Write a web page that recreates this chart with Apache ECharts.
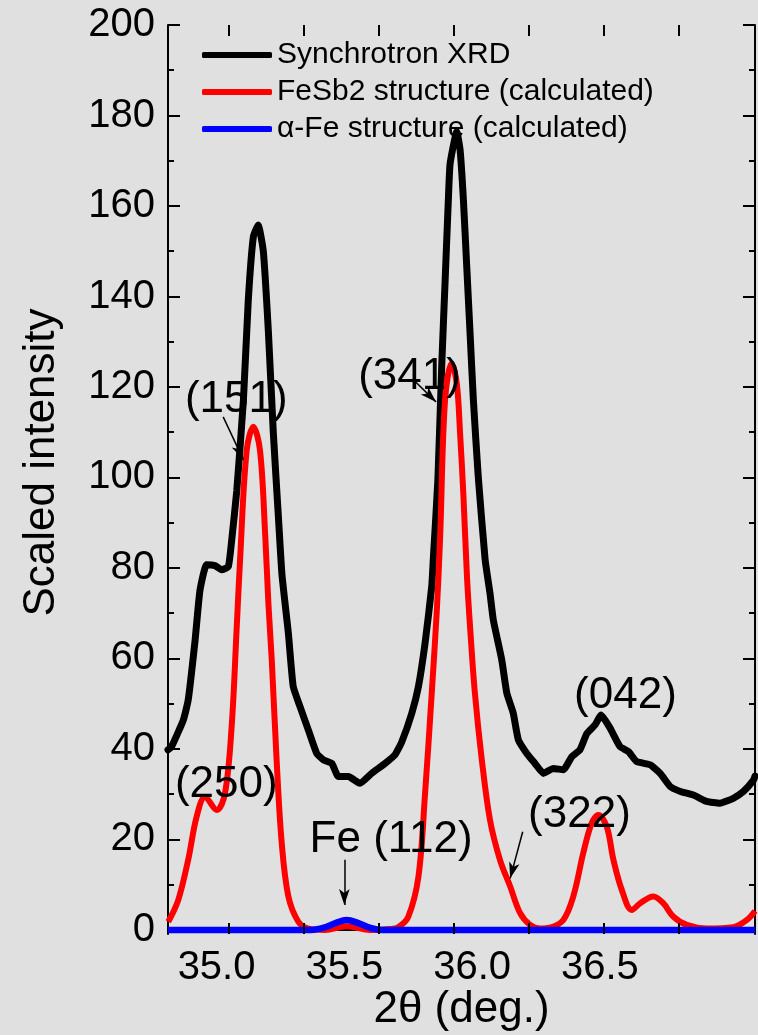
<!DOCTYPE html>
<html>
<head>
<meta charset="utf-8">
<script src="https://cdn.jsdelivr.net/npm/echarts@6/dist/echarts.min.js"></script>
<style>
  html, body { margin: 0; padding: 0; background: #e0e0e0; }
  #chart { width: 758px; height: 1035px; }
</style>
</head>
<body>
<div id="chart"></div>
<script>
// measured XRD (black)
const xrdTheta = [34.810, 34.824, 34.870, 34.889, 34.916, 34.935, 34.961, 34.994, 35.020, 35.046, 35.059, 35.079, 35.105, 35.124, 35.144, 35.163, 35.183, 35.203, 35.222, 35.242, 35.256, 35.281, 35.300, 35.327, 35.359, 35.392, 35.418, 35.451, 35.477, 35.516, 35.561, 35.607, 35.659, 35.698, 35.725, 35.764, 35.790, 35.816, 35.842, 35.848, 35.866, 35.881, 35.894, 35.907, 35.914, 35.940, 35.953, 35.966, 35.979, 35.992, 36.005, 36.024, 36.051, 36.070, 36.083, 36.116, 36.136, 36.161, 36.181, 36.214, 36.246, 36.279, 36.318, 36.357, 36.390, 36.422, 36.449, 36.481, 36.505, 36.540, 36.579, 36.612, 36.644, 36.697, 36.736, 36.775, 36.815, 36.866, 36.918, 36.970, 37.022, 37.062, 37.101, 37.107]
const xrdIntensity = [39.8, 40.5, 46.4, 50.8, 64, 75, 80.7, 80.5, 79.6, 80.3, 86, 97, 117, 139, 153.2, 155.8, 150, 132, 110, 91.3, 78.5, 65.6, 53.8, 49.3, 44.2, 39, 37.6, 36.8, 33.9, 33.9, 32.4, 34.6, 36.8, 38.7, 41.6, 47.9, 53.8, 63.4, 75.9, 81.8, 99.4, 124.5, 142.9, 161.3, 169.4, 176.4, 172.4, 161.3, 146.6, 131.9, 117.1, 100.2, 81.8, 74.4, 68.5, 59.7, 52.3, 47.9, 42, 39, 36.8, 34.6, 35.7, 35.4, 38.3, 39.8, 43.4, 45.3, 47.5, 44.6, 40.5, 39.4, 37.2, 36.5, 34.6, 31.7, 30.6, 29.8, 28.4, 28, 29.1, 30.6, 33.1, 34]

// FeSb2 calculated (red)
const fesb2Theta = [34.811, 34.850, 34.889, 34.922, 34.955, 35.001, 35.033, 35.059, 35.079, 35.092, 35.118, 35.144, 35.170, 35.190, 35.203, 35.216, 35.235, 35.255, 35.281, 35.320, 35.359, 35.424, 35.509, 35.601, 35.679, 35.711, 35.750, 35.790, 35.816, 35.842, 35.862, 35.875, 35.894, 35.920, 35.940, 35.953, 35.966, 35.980, 35.992, 36.011, 36.038, 36.070, 36.109, 36.149, 36.188, 36.227, 36.266, 36.305, 36.357, 36.396, 36.435, 36.468, 36.494, 36.527, 36.553, 36.586, 36.625, 36.658, 36.709, 36.748, 36.788, 36.840, 36.918, 37.022, 37.075, 37.107]
const fesb2Intensity = [1.8, 6.6, 15.5, 25, 29.4, 26.5, 30.2, 44.9, 67, 81.8, 106, 111.2, 106, 87.7, 72, 59.7, 37.6, 19.2, 7.4, 1.8, 0.3, 0, 0.8, 0, 0.2, 0.6, 2.9, 11.8, 30.2, 52.3, 70.7, 87, 117, 125.2, 120.8, 109.7, 96, 78, 67, 52.3, 37.6, 24.3, 15.5, 9.6, 3.7, 1.1, 0.3, 0.5, 2.2, 7.4, 17, 23.6, 25.4, 22.8, 15.5, 8.8, 4.4, 5.9, 7.4, 5.9, 2.9, 1.1, 0.3, 0.6, 2.2, 4.2]

// alpha-Fe calculated (blue)
const feTheta = [34.810, 35.372, 35.420, 35.465, 35.509, 35.555, 35.600, 35.646, 37.107]
const feIntensity = [0, 0, 0.5, 1.5, 2.2, 1.5, 0.5, 0, 0]

// peak labels and arrows
const peakNames = ['(151)', '(341)', '(042)', '(250)', '(322)', 'Fe (112)']
const peakTheta = [35.079, 35.757, 36.602, 35.040, 36.422, 35.685]
const peakY = [117, 122.2, 51.7, 32.0, 25.4, 19.7]
const arrowFrom = [[35.026, 113.4], [35.777, 121.2], [35.500, 15.5], [36.198, 21.7]]
const arrowTo = [[35.105, 103.9], [35.859, 116.7], [35.500, 5.5], [36.149, 11.4]]

// axes
const xLabels = [35.0, 35.5, 36.0, 36.5]
const xTicks = [35.046, 35.340, 35.633, 35.927, 36.220, 36.514, 36.807]
const yLabels = [0, 20, 40, 60, 80, 100, 120, 140, 160, 180, 200]
const yMinor = [10, 30, 50, 70, 90, 110, 130, 150, 170, 190]

const xMin = 34.81
const xMax = 37.107
const yMin = -0.9
const yMax = 200

const plotHeight = 909 // px, 1035 - 25 - 101
const tickLen = 11 * (yMax - yMin) / plotHeight // 11px in y units

const zip = (xs, ys) => xs.map((x, i) => [x, ys[i]])

const myChart = echarts.init(document.getElementById('chart'))

const axisLine = { show: true, lineStyle: { color: '#000', width: 2 } }

function yAxis (position, ticks, len, withLabels) {
  return {
    type: 'value',
    position: position,
    alignTicks: false,
    min: yMin,
    max: yMax,
    axisLine: withLabels === null ? { show: false } : axisLine,
    axisTick: { show: true, inside: true, length: len, customValues: ticks, lineStyle: { color: '#000', width: 2 } },
    axisLabel: withLabels ? {
      show: true,
      customValues: yLabels,
      fontSize: 40,
      color: '#000',
      margin: 13
    } : { show: false },
    splitLine: { show: false }
  }
}

const leftAxis = yAxis('left', yLabels, 12, true)
leftAxis.name = 'Scaled intensity'
leftAxis.nameLocation = 'middle'
leftAxis.nameGap = 104
leftAxis.nameTextStyle = { fontSize: 44, color: '#000', padding: [0, 0, 0, 34] }

// x ticks (bottom and top, pointing inwards)
const tickLines = []
xTicks.forEach(v => {
  tickLines.push([{ coord: [v, yMin] }, { coord: [v, yMin + tickLen] }])
  tickLines.push([{ coord: [v, yMax] }, { coord: [v, yMax - tickLen] }])
})

const option = {
  backgroundColor: '#e0e0e0',
  animation: false,
  textStyle: { fontFamily: 'Liberation Sans, Arial, sans-serif', color: '#000' },
  grid: { left: 168, right: 3, top: 25, bottom: 101, containLabel: false, outerBoundsMode: 'none' },
  legend: {
    data: ['Synchrotron XRD', 'FeSb2 structure (calculated)', 'α-Fe structure (calculated)'],
    orient: 'vertical',
    left: 202,
    top: 40,
    padding: 0,
    itemGap: 7,
    itemWidth: 70,
    itemHeight: 6,
    icon: 'roundRect',
    textStyle: { fontSize: 30, color: '#000' }
  },
  xAxis: [
    {
      type: 'value',
      position: 'bottom',
      min: xMin,
      max: xMax,
      name: '2θ (deg.)',
      nameLocation: 'middle',
      nameGap: 54,
      nameTextStyle: { fontSize: 44, color: '#000' },
      axisLine: axisLine,
      axisTick: { show: false },
      axisLabel: { show: false },
      splitLine: { show: false }
    },
    {
      type: 'value',
      position: 'top',
      min: xMin,
      max: xMax,
      axisLine: axisLine,
      axisTick: { show: false },
      axisLabel: { show: false },
      splitLine: { show: false }
    }
  ],
  yAxis: [
    leftAxis,
    yAxis('right', yLabels, 12, false),
    yAxis('left', yMinor, 6, null),
    yAxis('right', yMinor, 6, null)
  ],
  series: [
    {
      // x tick labels, placed on the axis line through the scale
      name: 'xlabels',
      type: 'scatter',
      data: xLabels.map(v => [v, yMin]),
      symbolSize: 0,
      clip: false,
      silent: true,
      itemStyle: { color: 'rgba(0,0,0,0)', opacity: 1 },
      label: {
        show: true,
        position: 'bottom',
        distance: 14,
        formatter: p => p.value[0].toFixed(1),
        fontSize: 40,
        color: '#000'
      },
      z: 1,
      markLine: {
        silent: true,
        symbol: 'none',
        label: { show: false },
        lineStyle: { color: '#000', width: 2, type: 'solid', opacity: 1 },
        data: tickLines
      }
    },
    {
      name: 'Synchrotron XRD',
      type: 'line',
      data: zip(xrdTheta, xrdIntensity),
      smooth: 0.15,
      symbol: 'none',
      itemStyle: { color: '#000' },
      lineStyle: { color: '#000', width: 7, join: 'round', cap: 'round' },
      z: 2
    },
    {
      name: 'FeSb2 structure (calculated)',
      type: 'line',
      data: zip(fesb2Theta, fesb2Intensity),
      smooth: 0.35,
      symbol: 'none',
      itemStyle: { color: '#ff0000' },
      lineStyle: { color: '#ff0000', width: 6 },
      z: 3
    },
    {
      name: 'α-Fe structure (calculated)',
      type: 'line',
      data: zip(feTheta, feIntensity),
      smooth: 0.35,
      symbol: 'none',
      itemStyle: { color: '#0000ff' },
      lineStyle: { color: '#0000ff', width: 6.5 },
      z: 4
    },
    {
      name: 'labels',
      type: 'scatter',
      data: peakNames.map((n, i) => ({ name: n, value: [peakTheta[i], peakY[i]] })),
      symbolSize: 1,
      itemStyle: { color: 'rgba(0,0,0,0)', opacity: 1 },
      label: {
        show: true,
        position: [0, 0],
        align: 'center',
        verticalAlign: 'middle',
        formatter: '{b}',
        fontSize: 44,
        color: '#000'
      },
      silent: true,
      z: 5,
      markLine: {
        silent: true,
        symbol: ['none', 'arrow'],
        symbolSize: [8, 16],
        label: { show: false },
        lineStyle: { color: '#000', width: 1.5, type: 'solid', opacity: 1 },
        data: arrowFrom.map((p, i) => [{ coord: p }, { coord: arrowTo[i] }])
      }
    }
  ]
}

myChart.setOption(option)
</script>
</body>
</html>
